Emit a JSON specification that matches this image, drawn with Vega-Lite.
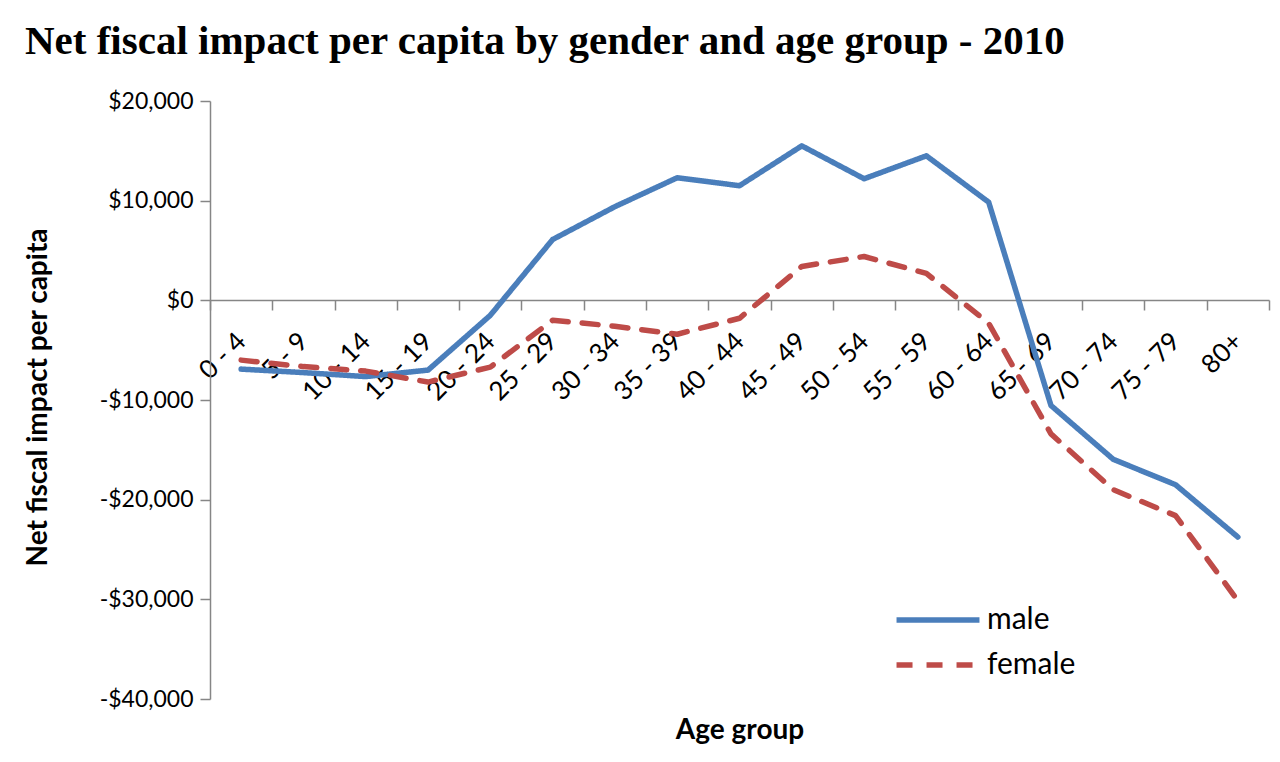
{
  "$schema": "https://vega.github.io/schema/vega-lite/v6.json",
  "width": 1059,
  "height": 598,
  "autosize": {"type": "none"},
  "padding": {"left": 210, "top": 101, "right": 11, "bottom": 63},
  "background": "white",
  "title": {
    "text": "Net fiscal impact per capita by gender and age group - 2010",
    "anchor": "start",
    "frame": "group",
    "dx": -185,
    "dy": 49,
    "offset": 44,
    "baseline": "alphabetic",
    "font": "Liberation Serif",
    "fontSize": 41,
    "fontWeight": "bold",
    "color": "black"
  },
  "data": {
    "values": [
      {"age": "0 - 4", "gender": "male", "value": -6900},
      {"age": "5 - 9", "gender": "male", "value": -7250},
      {"age": "10 - 14", "gender": "male", "value": -7650},
      {"age": "15 - 19", "gender": "male", "value": -7000},
      {"age": "20 - 24", "gender": "male", "value": -1500},
      {"age": "25 - 29", "gender": "male", "value": 6100},
      {"age": "30 - 34", "gender": "male", "value": 9400},
      {"age": "35 - 39", "gender": "male", "value": 12300},
      {"age": "40 - 44", "gender": "male", "value": 11500},
      {"age": "45 - 49", "gender": "male", "value": 15500},
      {"age": "50 - 54", "gender": "male", "value": 12200},
      {"age": "55 - 59", "gender": "male", "value": 14500},
      {"age": "60 - 64", "gender": "male", "value": 9850},
      {"age": "65 - 69", "gender": "male", "value": -10550},
      {"age": "70 - 74", "gender": "male", "value": -15950},
      {"age": "75 - 79", "gender": "male", "value": -18500},
      {"age": "80+", "gender": "male", "value": -23750},
      {"age": "0 - 4", "gender": "female", "value": -6000},
      {"age": "5 - 9", "gender": "female", "value": -6650},
      {"age": "10 - 14", "gender": "female", "value": -7100},
      {"age": "15 - 19", "gender": "female", "value": -8200},
      {"age": "20 - 24", "gender": "female", "value": -6700},
      {"age": "25 - 29", "gender": "female", "value": -2000},
      {"age": "30 - 34", "gender": "female", "value": -2600},
      {"age": "35 - 39", "gender": "female", "value": -3400},
      {"age": "40 - 44", "gender": "female", "value": -1800},
      {"age": "45 - 49", "gender": "female", "value": 3400},
      {"age": "50 - 54", "gender": "female", "value": 4400},
      {"age": "55 - 59", "gender": "female", "value": 2700},
      {"age": "60 - 64", "gender": "female", "value": -2300},
      {"age": "65 - 69", "gender": "female", "value": -13400},
      {"age": "70 - 74", "gender": "female", "value": -19000},
      {"age": "75 - 79", "gender": "female", "value": -21600},
      {"age": "80+", "gender": "female", "value": -30150}
    ]
  },
  "mark": {"type": "line", "strokeWidth": 5.5, "strokeCap": "round", "strokeJoin": "round"},
  "encoding": {
    "x": {
      "field": "age",
      "type": "ordinal",
      "sort": ["0 - 4", "5 - 9", "10 - 14", "15 - 19", "20 - 24", "25 - 29", "30 - 34", "35 - 39", "40 - 44", "45 - 49", "50 - 54", "55 - 59", "60 - 64", "65 - 69", "70 - 74", "75 - 79", "80+"],
      "scale": {"type": "band", "paddingInner": 0, "paddingOuter": 0},
      "axis": {
        "title": "Age group",
        "offset": -399,
        "tickBand": "extent",
        "labelAngle": -45,
        "labelAlign": "right",
        "labelBaseline": "middle",
        "labelPadding": 27,
        "tickSize": 10,
        "tickWidth": 1.5,
        "domainWidth": 1.5,
        "domainColor": "#868686",
        "tickColor": "#868686",
        "labelFont": "Lato",
        "labelFontSize": 26,
        "labelColor": "black",
        "titleFont": "Lato",
        "titleFontSize": 28,
        "titleFontWeight": "bold",
        "titleColor": "black",
        "titleY": 430,
        "titleBaseline": "middle",
        "grid": false
      }
    },
    "y": {
      "field": "value",
      "type": "quantitative",
      "scale": {"domain": [-40000, 20000], "nice": false, "zero": false},
      "axis": {
        "title": "Net fiscal impact per capita",
        "values": [-40000, -30000, -20000, -10000, 0, 10000, 20000],
        "labelExpr": "(datum.value < 0 ? '-' : '') + format(abs(datum.value), '$,')",
        "grid": false,
        "tickSize": 10,
        "tickWidth": 1.5,
        "domainWidth": 1.5,
        "labelPadding": 7,
        "domainColor": "#868686",
        "tickColor": "#868686",
        "labelFont": "Lato",
        "labelFontSize": 23,
        "labelColor": "black",
        "titleFont": "Lato",
        "titleFontSize": 28,
        "titleFontWeight": "bold",
        "titleColor": "black",
        "titleX": -172,
        "titleY": 296,
        "titleAngle": -90,
        "titleAlign": "center",
        "titleBaseline": "middle"
      }
    },
    "color": {
      "field": "gender",
      "type": "nominal",
      "scale": {"domain": ["male", "female"], "range": ["#4A7EBB", "#BE4B48"]},
      "legend": {
        "title": null,
        "orient": "none",
        "legendX": 713,
        "legendY": 504,
        "padding": 0,
        "symbolType": "M-4,0H4",
        "symbolSize": 430,
        "symbolStrokeWidth": 5.5,
        "labelFont": "Lato",
        "labelFontSize": 30,
        "labelColor": "black",
        "labelOffset": 34,
        "rowPadding": 15
      }
    },
    "strokeDash": {
      "field": "gender",
      "type": "nominal",
      "scale": {"domain": ["male", "female"], "range": [[1, 0], [16, 14]]},
      "legend": {
        "title": null,
        "orient": "none",
        "legendX": 713,
        "legendY": 504,
        "padding": 0,
        "symbolType": "M-4,0H4",
        "symbolSize": 430,
        "symbolStrokeWidth": 5.5,
        "labelFont": "Lato",
        "labelFontSize": 30,
        "labelColor": "black",
        "labelOffset": 34,
        "rowPadding": 15
      }
    }
  },
  "config": {"view": {"stroke": null}}
}
